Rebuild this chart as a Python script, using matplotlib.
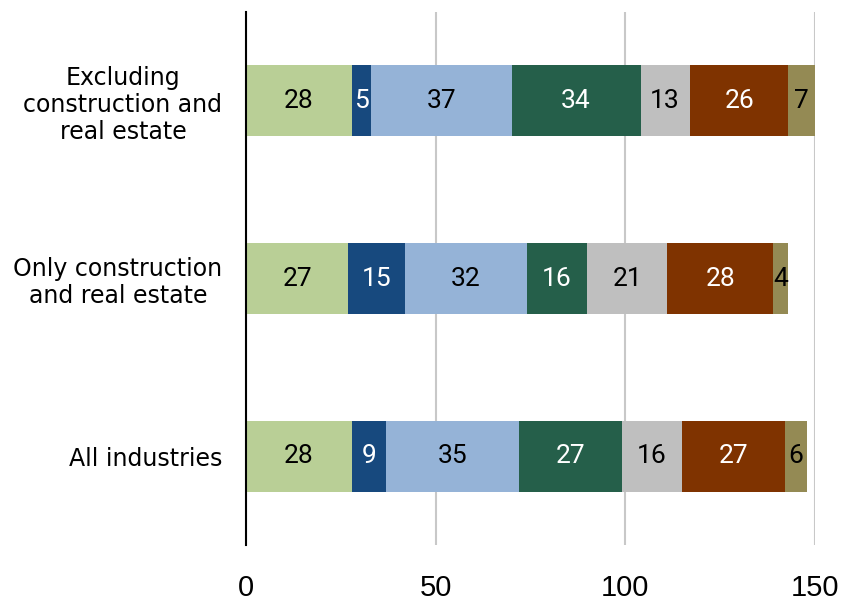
import numpy as np
import matplotlib.pyplot as plt

categories = ['All industries', 'Only construction\nand real estate',
              'Excluding\nconstruction and\nreal estate']
seg1 = [28, 27, 28]
seg2 = [9, 15, 5]
seg3 = [35, 32, 37]
seg4 = [27, 16, 34]
seg5 = [16, 21, 13]
seg6 = [27, 28, 26]
seg7 = [6, 4, 7]
series = [seg1, seg2, seg3, seg4, seg5, seg6, seg7]
colors = ['#B9CF96', '#17497E', '#95B3D7', '#255F4A', '#BFBFBF', '#7F3300', '#948A54']
text_colors = ['black', 'white', 'black', 'white', 'black', 'white', 'black']
xticks = [0, 50, 100, 150]

fig = plt.figure(figsize=(8.44, 6.05), dpi=100)
ax = fig.add_axes([246/844, 60/605, 569/844, 533/605])

y = np.arange(len(categories))
left = np.zeros(len(categories))
for vals, c, tc in zip(series, colors, text_colors):
    vals = np.array(vals, dtype=float)
    ax.barh(y, vals, left=left, height=0.4, color=c, zorder=3)
    for yi, l, v in zip(y, left, vals):
        ax.text(l + v/2, yi, f'{int(v)}', ha='center', va='center', color=tc,
                fontsize=19, family='Roboto', zorder=4)
    left += vals

ax.set_xlim(0, 150)
ax.set_ylim(-0.5, 2.5)
ax.set_xticks(xticks)
ax.set_xticklabels([str(t) for t in xticks], family='Liberation Sans', fontsize=21)
ax.set_yticks(y)
ax.set_yticklabels(categories, fontsize=17, family='DejaVu Sans', linespacing=1.15)
for lab in ax.get_yticklabels():
    lab.set_multialignment('center')
ax.tick_params(axis='x', length=0, pad=21)
ax.tick_params(axis='y', length=0, pad=17)
ax.grid(axis='x', color='#C8C8C8', linewidth=1.5, zorder=0)
for s in ['top', 'right', 'bottom']:
    ax.spines[s].set_visible(False)
ax.spines['left'].set_linewidth(1.5)
ax.spines['left'].set_zorder(5)

fig.savefig('out.png', dpi=100)
